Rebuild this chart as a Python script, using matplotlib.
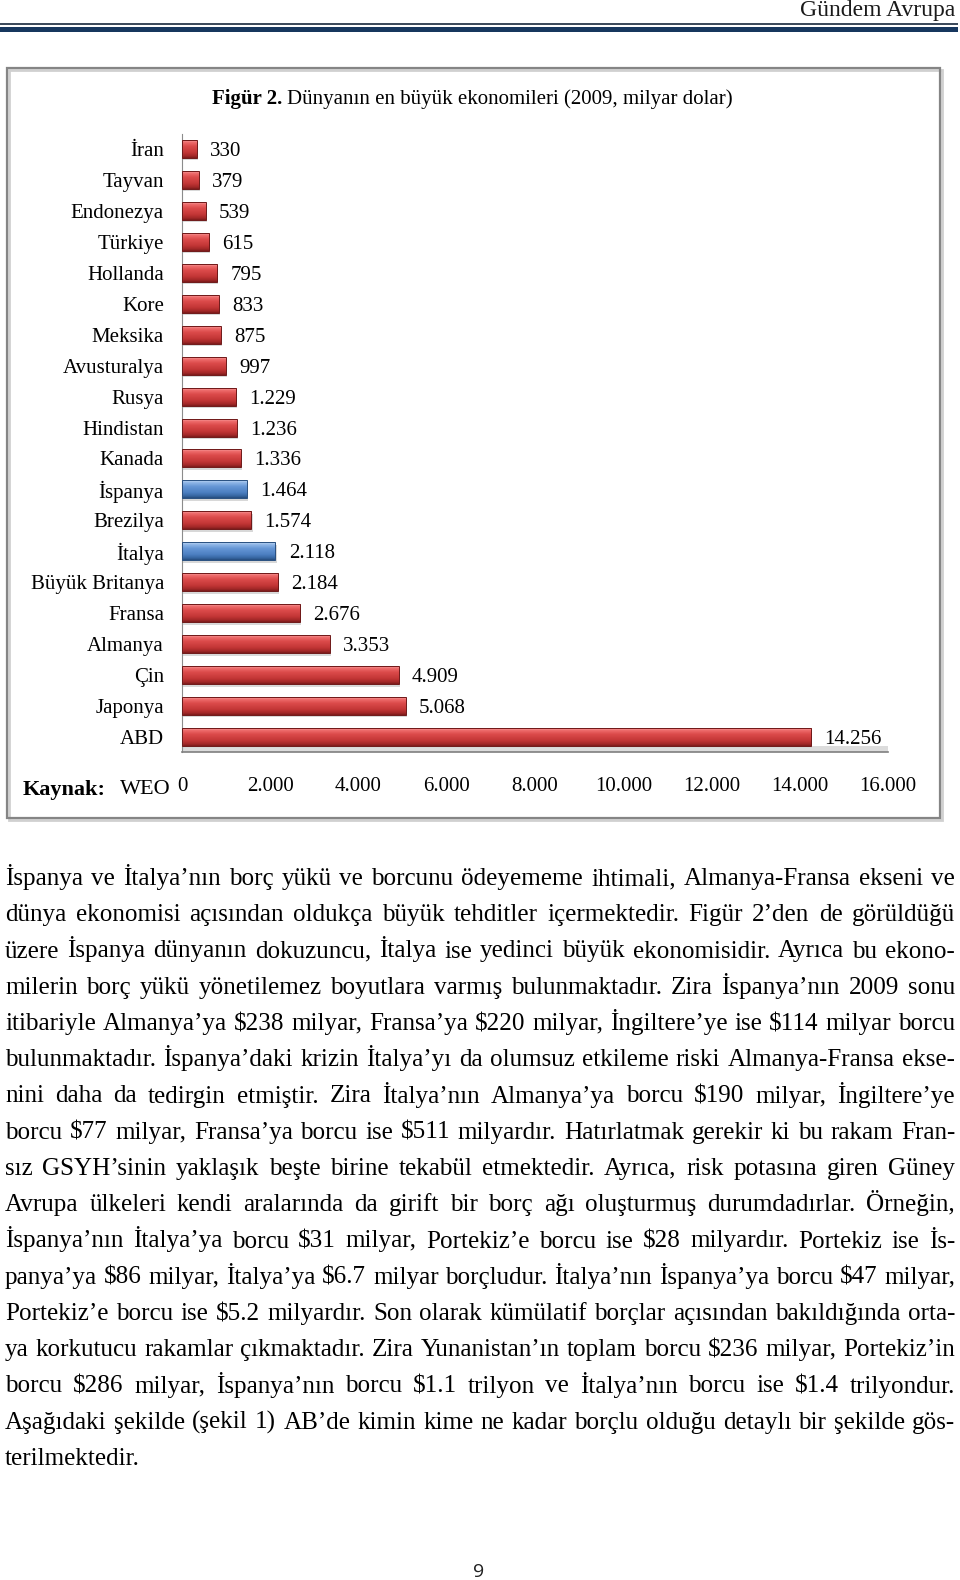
import numpy as np
import matplotlib
matplotlib.use("Agg")
import matplotlib.pyplot as plt
from matplotlib.patches import Rectangle
from matplotlib.colors import to_rgb
from matplotlib.ticker import FuncFormatter

W, H = 960, 1580
SERIF = "Liberation Serif"
plt.rcParams["font.family"] = [SERIF, "DejaVu Serif"]

# ── veri ─────────────────────────────────────────────────
countries = ["İran", "Tayvan", "Endonezya", "Türkiye", "Hollanda", "Kore", "Meksika",
             "Avusturalya", "Rusya", "Hindistan", "Kanada", "İspanya", "Brezilya",
             "İtalya", "Büyük Britanya", "Fransa", "Almanya", "Çin", "Japonya", "ABD"]
gdp = [330, 379, 539, 615, 795, 833, 875, 997, 1229, 1236, 1336, 1464, 1574,
       2118, 2184, 2676, 3353, 4909, 5068, 14256]
highlight = ["İspanya", "İtalya"]
xticks = [0, 2000, 4000, 6000, 8000, 10000, 12000, 14000, 16000]

header = "Gündem Avrupa"
title_bold = "Figür 2."
title_rest = "Dünyanın en büyük ekonomileri (2009, milyar dolar)"
source_label = "Kaynak:"
source_name = "WEO"
page_no = "9"
body_lines = [
    "İspanya ve İtalya’nın borç yükü ve borcunu ödeyememe ihtimali, Almanya-Fransa ekseni ve",
    "dünya ekonomisi açısından oldukça büyük tehditler içermektedir. Figür 2’den de görüldüğü",
    "üzere İspanya dünyanın dokuzuncu, İtalya ise yedinci büyük ekonomisidir. Ayrıca bu ekono-",
    "milerin borç yükü yönetilemez boyutlara varmış bulunmaktadır. Zira İspanya’nın 2009 sonu",
    "itibariyle Almanya’ya $238 milyar, Fransa’ya $220 milyar, İngiltere’ye ise $114 milyar borcu",
    "bulunmaktadır. İspanya’daki krizin İtalya’yı da olumsuz etkileme riski Almanya-Fransa ekse-",
    "nini daha da tedirgin etmiştir. Zira İtalya’nın Almanya’ya borcu $190 milyar, İngiltere’ye",
    "borcu $77 milyar, Fransa’ya borcu ise $511 milyardır. Hatırlatmak gerekir ki bu rakam Fran-",
    "sız GSYH’sinin yaklaşık beşte birine tekabül etmektedir. Ayrıca, risk potasına giren Güney",
    "Avrupa ülkeleri kendi aralarında da girift bir borç ağı oluşturmuş durumdadırlar. Örneğin,",
    "İspanya’nın İtalya’ya borcu $31 milyar, Portekiz’e borcu ise $28 milyardır. Portekiz ise İs-",
    "panya’ya $86 milyar, İtalya’ya $6.7 milyar borçludur. İtalya’nın İspanya’ya borcu $47 milyar,",
    "Portekiz’e borcu ise $5.2 milyardır. Son olarak kümülatif borçlar açısından bakıldığında orta-",
    "ya korkutucu rakamlar çıkmaktadır. Zira Yunanistan’ın toplam borcu $236 milyar, Portekiz’in",
    "borcu $286 milyar, İspanya’nın borcu $1.1 trilyon ve İtalya’nın borcu ise $1.4 trilyondur.",
    "Aşağıdaki şekilde (şekil 1) AB’de kimin kime ne kadar borçlu olduğu detaylı bir şekilde gös-",
    "terilmektedir.",
]


def tr_num(v):
    return f"{v:,.0f}".replace(",", ".")


def gradient(stops, n=60):
    """dikey renk geçişi (üst -> alt)"""
    pos = np.array([p for p, _ in stops])
    cols = np.array([to_rgb(c) for _, c in stops])
    t = np.linspace(0, 1, n)
    g = np.stack([np.interp(t, pos, cols[:, k]) for k in range(3)], axis=1)
    return g[:, None, :]


RED = gradient([(0, "#f7a3a3"), (0.12, "#ee6b6b"), (0.35, "#db4a4a"),
                (0.7, "#c23636"), (0.9, "#a12727"), (1, "#7c1b1b")])
BLUE = gradient([(0, "#c6dcf5"), (0.12, "#93b9e8"), (0.35, "#6697d6"),
                 (0.7, "#4c7fc1"), (0.9, "#35649f"), (1, "#264c7d")])

fig = plt.figure(figsize=(W / 100, H / 100), dpi=100)
bg = fig.add_axes([0, 0, 1, 1])
bg.set_xlim(0, W); bg.set_ylim(H, 0); bg.axis("off")

# ── üst başlık ─────────────────────────────────────────
bg.text(955, 16, header, ha="right", va="baseline", fontsize=17, color="#1a1a1a")
bg.add_patch(Rectangle((0, 22.5), 958, 2, color="#3d4b5c", lw=0))
bg.add_patch(Rectangle((0, 26.8), 958, 5, color="#17375e", lw=0))

# ── grafik çerçevesi ────────────────────────────────────
bg.add_patch(Rectangle((9, 70), 933, 750, fill=False, ec="#d0d0d0", lw=2))
bg.add_patch(Rectangle((7, 68), 933, 750, fill=False, ec="#858585", lw=1.6))

r = fig.canvas.get_renderer()
tb = bg.text(212, 99, title_bold, fontsize=15, weight="bold", va="center")
wb = tb.get_window_extent(r).width
bg.text(212 + wb + 5, 99, title_rest, fontsize=15, va="center")

bg.text(23, 790, source_label, fontsize=16, weight="bold", va="center")
bg.text(120, 790, source_name, fontsize=16, va="center")

# ── çubuk grafik ───────────────────────────────────────
x0, x1, y0, y1 = 182, 888, 134, 752
ax = fig.add_axes([x0 / W, 1 - y1 / H, (x1 - x0) / W, (y1 - y0) / H])
ax.patch.set_alpha(0)
h = 0.58
for i, (c, v) in enumerate(zip(countries, gdp)):
    img = BLUE if c in highlight else RED
    edge = "#284f80" if c in highlight else "#6e1818"
    ax.add_patch(Rectangle((0, i - h / 2 + 0.08), v + 25, h, color="#d8d8d8", lw=0, zorder=1))
    ax.imshow(img, extent=(0, v, i + h / 2, i - h / 2), aspect="auto", zorder=2,
              interpolation="bilinear")
    ax.add_patch(Rectangle((0, i - h / 2), v, h, fill=False, ec=edge, lw=0.7, zorder=3))
    ax.annotate(tr_num(v), (v, i), xytext=(9.5, 0), textcoords="offset points",
                va="center_baseline", ha="left", fontsize=15)

ax.axhspan(19.29, 19.485, color="#dcdcdc", lw=0, zorder=0)
ax.set_xlim(0, 16000)
ax.set_ylim(19.485, -0.485)
ax.set_yticks(range(len(countries)))
ax.set_yticklabels(countries)
ax.set_xticks(xticks)
ax.xaxis.set_major_formatter(FuncFormatter(lambda v, p: tr_num(v)))
ax.tick_params(axis="y", length=0, pad=13, labelsize=15)
ax.tick_params(axis="x", length=0, pad=18, labelsize=15)
for s in ["top", "right"]:
    ax.spines[s].set_visible(False)
ax.spines["left"].set_color("#8c8c8c")
ax.spines["bottom"].set_color("#7f7f7f")
ax.spines["bottom"].set_linewidth(1.2)

# ── metin (iki yana yaslı) ─────────────────────────────
LEFT, RIGHT = 5, 955
for k, line in enumerate(body_lines):
    y = 885 + k * 36.25
    words = line.split()
    texts = [bg.text(LEFT, y, w, fontsize=18.1, va="baseline", ha="left",
                     parse_math=False) for w in words]
    widths = [t.get_window_extent(r).width for t in texts]
    if k == len(body_lines) - 1 or len(words) < 2:
        gap = 6
    else:
        gap = (RIGHT - LEFT - sum(widths)) / (len(words) - 1)
    x = LEFT
    for t, w in zip(texts, widths):
        t.set_x(x)
        x += w + gap

bg.text(479, 1572, page_no, ha="center", va="center", fontsize=14,
        family=["Open Sans", "DejaVu Sans"], color="#222222")

fig.savefig("out.png", dpi=100)
